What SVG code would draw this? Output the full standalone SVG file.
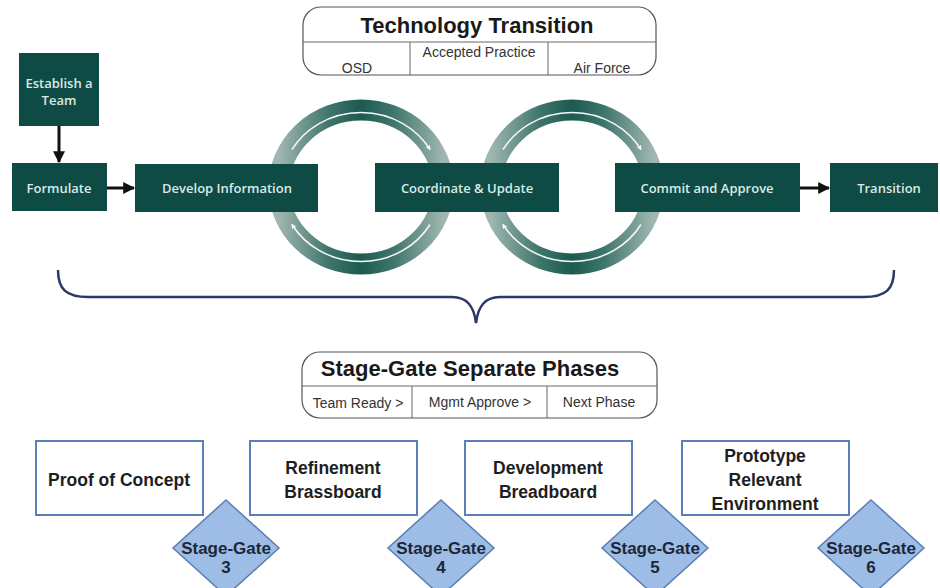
<svg xmlns="http://www.w3.org/2000/svg" width="940" height="588" viewBox="0 0 940 588">
<style>
.gbox{fill:#0e4b45;}
.gtxt{font-family:"Open Sans","Liberation Sans",sans-serif;font-weight:600;font-size:13px;fill:#dde9e6;text-anchor:middle;}
.hdr{fill:#ffffff;stroke:#555;stroke-width:1.2;}
.div{stroke:#666;stroke-width:1;fill:none;}
.ttl{font-family:"Liberation Sans",Arial,sans-serif;font-weight:bold;font-size:22px;fill:#1a1a1a;text-anchor:middle;}
.sub{font-family:"Liberation Sans",Arial,sans-serif;font-size:14px;fill:#333;text-anchor:middle;}
.phase{fill:#ffffff;stroke:#5b7fb8;stroke-width:2;}
.ptxt{font-family:"Liberation Sans",Arial,sans-serif;font-weight:bold;font-size:17.5px;fill:#1e1e1e;text-anchor:middle;}
.gate{fill:#9dbde6;stroke:#5a7eb2;stroke-width:1.5;}
.gtx{font-family:"Liberation Sans",Arial,sans-serif;font-weight:bold;font-size:17px;fill:#1c2838;text-anchor:middle;}
.ring{fill:none;stroke:url(#rg);stroke-width:21;}
.wl{fill:none;stroke:#f4f8f7;stroke-width:1.5;marker-end:url(#wa);}
.conn{stroke:#111;stroke-width:3;fill:none;marker-end:url(#ba);}
</style>
<defs>
<linearGradient id="rg" x1="0" y1="0" x2="1" y2="0">
<stop offset="0" stop-color="#9fb6b1"/>
<stop offset="0.3" stop-color="#3f766c"/>
<stop offset="0.5" stop-color="#1d5a50"/>
<stop offset="0.7" stop-color="#3f766c"/>
<stop offset="1" stop-color="#9fb6b1"/>
</linearGradient>
<marker id="wa" viewBox="0 0 10 10" refX="8" refY="5" markerWidth="5" markerHeight="5" orient="auto" markerUnits="userSpaceOnUse">
<path d="M0,0 L10,5 L0,10 z" fill="#f4f8f7"/>
</marker>
<marker id="ba" viewBox="0 0 10 10" refX="9" refY="5" markerWidth="4" markerHeight="4" orient="auto">
<path d="M0,0 L10,5 L0,10 z" fill="#111"/>
</marker>
</defs>

<!-- rings -->
<g id="loops">
<ellipse class="ring" cx="361" cy="187" rx="82" ry="77"/>
<ellipse class="ring" cx="572" cy="187" rx="81" ry="77"/>
<path class="wl" d="M292,149.5 A80,75 0 0 1 430,149.5"/>
<path class="wl" d="M430,224.5 A80,75 0 0 1 292,224.5"/>
<path class="wl" d="M503,149.5 A80,75 0 0 1 641,149.5"/>
<path class="wl" d="M641,224.5 A80,75 0 0 1 503,224.5"/>
</g>

<g id="connectors">
<line class="conn" x1="59" y1="126" x2="59" y2="162"/>
<line class="conn" x1="107" y1="188" x2="134" y2="188"/>
<line class="conn" x1="800" y1="188" x2="829" y2="188"/>
<path d="M58,270 C58,289 66,297 88,297 L452,297 C467,297 474,306 476,323 C478,306 485,297 500,297 L864,297 C886,297 894,289 894,270" fill="none" stroke="#2b3868" stroke-width="2.5"/>
</g>

<g id="tech-transition">
<rect class="hdr" x="303" y="7" width="353" height="68" rx="18"/>
<line class="div" x1="303" y1="42" x2="656" y2="42"/>
<line class="div" x1="410" y1="42" x2="410" y2="75"/>
<line class="div" x1="548" y1="42" x2="548" y2="75"/>
<text class="ttl" x="477" y="33">Technology Transition</text>
<text class="sub" x="357" y="73">OSD</text>
<text class="sub" x="479" y="57">Accepted Practice</text>
<text class="sub" x="602" y="73">Air Force</text>
</g>

<g id="establish"><rect class="gbox" x="19" y="53" width="80" height="73"/>
<text class="gtxt" x="59" y="88">Establish a</text><text class="gtxt" x="59" y="105">Team</text></g>
<g id="formulate"><rect class="gbox" x="12" y="163" width="95" height="48"/>
<text class="gtxt" x="59" y="193">Formulate</text></g>
<g id="develop"><rect class="gbox" x="135" y="164" width="183" height="48"/>
<text class="gtxt" x="227" y="193">Develop Information</text></g>
<g id="coordinate"><rect class="gbox" x="375" y="163" width="184" height="49"/>
<text class="gtxt" x="467" y="193">Coordinate &amp; Update</text></g>
<g id="commit"><rect class="gbox" x="615" y="163" width="185" height="49"/>
<text class="gtxt" x="707" y="193">Commit and Approve</text></g>
<g id="transition"><rect class="gbox" x="830" y="163" width="108" height="49"/>
<text class="gtxt" x="889" y="193">Transition</text></g>

<g id="stage-gate-header">
<rect class="hdr" x="302" y="352" width="355" height="66" rx="18"/>
<line class="div" x1="302" y1="386" x2="657" y2="386"/>
<line class="div" x1="412" y1="386" x2="412" y2="418"/>
<line class="div" x1="547" y1="386" x2="547" y2="418"/>
<text class="ttl" x="470" y="376">Stage-Gate Separate Phases</text>
<text class="sub" x="358" y="408">Team Ready &gt;</text>
<text class="sub" x="480" y="407">Mgmt Approve &gt;</text>
<text class="sub" x="599" y="407">Next Phase</text>
</g>

<g id="proof"><rect class="phase" x="36" y="441" width="167" height="74"/>
<text class="ptxt" x="119" y="486">Proof of Concept</text></g>
<g id="refinement"><rect class="phase" x="250" y="441" width="167" height="74"/>
<text class="ptxt" x="333" y="474">Refinement</text><text class="ptxt" x="333" y="498">Brassboard</text></g>
<g id="development"><rect class="phase" x="465" y="441" width="167" height="74"/>
<text class="ptxt" x="548" y="474">Development</text><text class="ptxt" x="548" y="498">Breadboard</text></g>
<g id="prototype"><rect class="phase" x="682" y="441" width="167" height="74"/>
<text class="ptxt" x="765" y="462">Prototype</text><text class="ptxt" x="765" y="486">Relevant</text><text class="ptxt" x="765" y="510">Environment</text></g>

<g id="gate3"><polygon class="gate" points="226,500 279,548 226,596 173,548"/>
<text class="gtx" x="226" y="554">Stage-Gate</text><text class="gtx" x="226" y="573">3</text></g>
<g id="gate4"><polygon class="gate" points="441,500 494,548 441,596 388,548"/>
<text class="gtx" x="441" y="554">Stage-Gate</text><text class="gtx" x="441" y="573">4</text></g>
<g id="gate5"><polygon class="gate" points="655,500 708,548 655,596 602,548"/>
<text class="gtx" x="655" y="554">Stage-Gate</text><text class="gtx" x="655" y="573">5</text></g>
<g id="gate6"><polygon class="gate" points="871,500 924,548 871,596 818,548"/>
<text class="gtx" x="871" y="554">Stage-Gate</text><text class="gtx" x="871" y="573">6</text></g>
</svg>
